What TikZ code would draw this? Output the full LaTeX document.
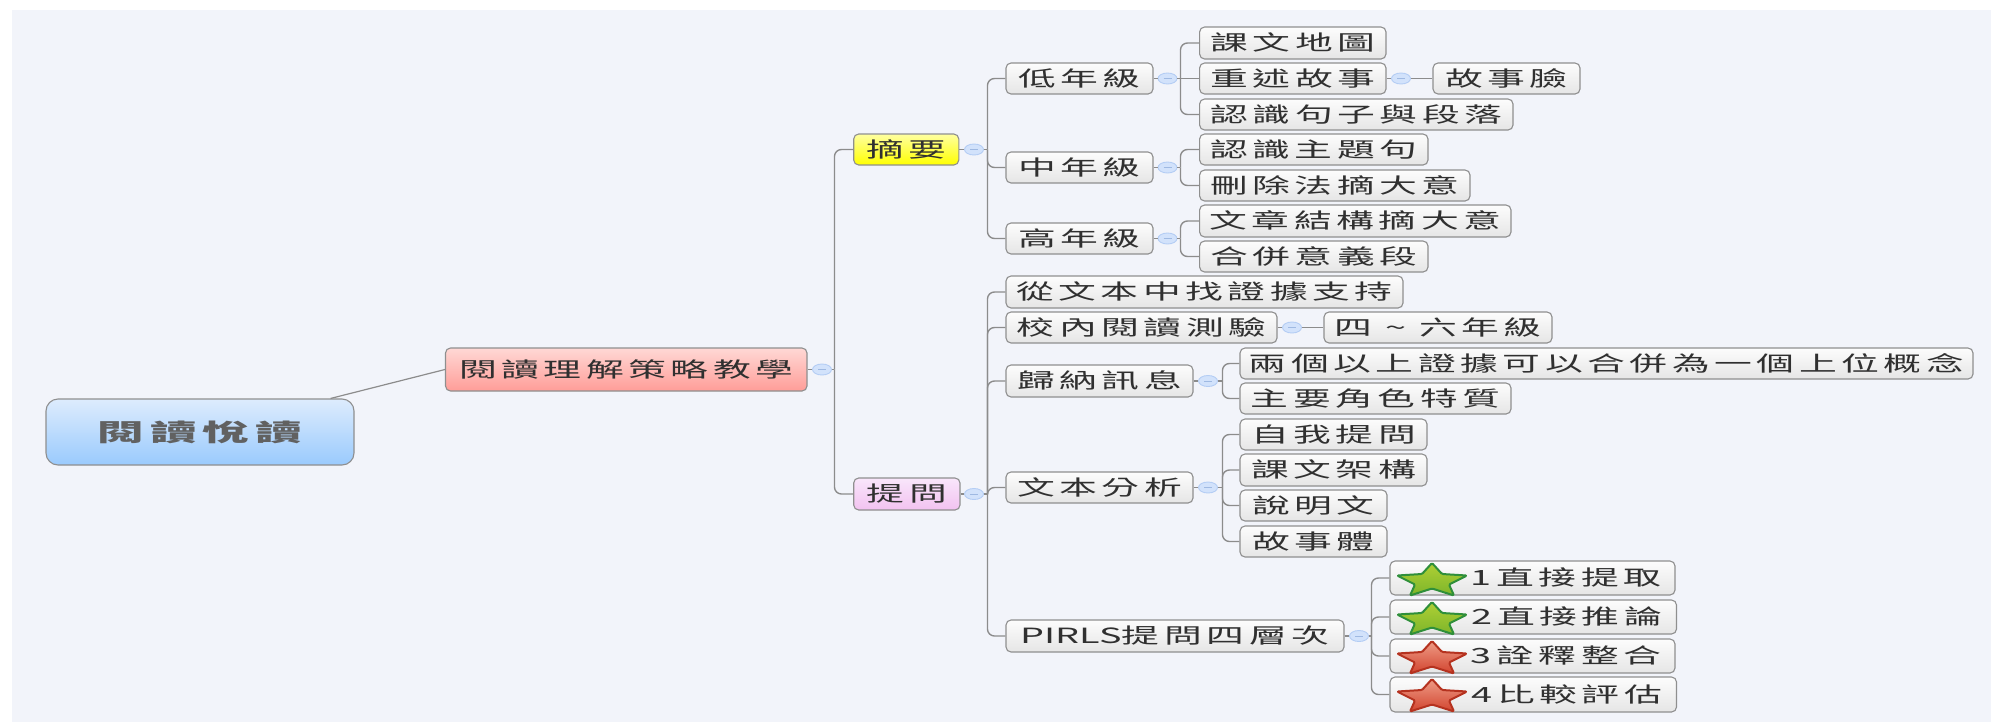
\documentclass[tikz,border=0pt]{standalone}
\usepackage{graphicx}
\usepackage{fontspec}
\usetikzlibrary{shapes.geometric,calc}
\newfontfamily\cjk[LetterSpace=12]{Noto Sans CJK TC}
\newfontfamily\cjklat{Noto Sans CJK TC}
\newfontfamily\cjkroot[LetterSpace=12]{Noto Sans CJK TC}
\newcommand\tx[1]{\scalebox{1.8}[1]{\fontsize{21}{24}\selectfont\cjk #1}}
\newcommand\txl[1]{\scalebox{1.8}[1]{\fontsize{21}{24}\selectfont\cjklat #1}}
\newcommand\rtx[1]{\scalebox{1.95}[1]{\fontsize{24}{28}\selectfont\cjkroot\bfseries #1}}
\definecolor{bgc}{HTML}{F2F4FA}
\definecolor{linec}{HTML}{8C8C8C}
\definecolor{edgec}{HTML}{8F8F8F}
\definecolor{txtc}{HTML}{303030}
\tikzset{
  boxbase/.style={draw=edgec,line width=1.1pt,inner sep=0pt,rounded corners=5pt,text=txtc,text height=18pt,text depth=3pt,align=center},
  rootbox/.style={boxbase,rounded corners=12pt,top color=rootT,bottom color=rootB,text=black!62,text height=21pt,text depth=3pt},
  redbox/.style={boxbase,top color=redT,bottom color=redB},
  yellowbox/.style={boxbase,top color=yelT,bottom color=yelB},
  purplebox/.style={boxbase,top color=purT,bottom color=purB},
  plainbox/.style={boxbase,top color=white!99!black,bottom color=black!10},
  conn/.style={draw=linec,line width=1.4pt,rounded corners=7pt},
  straightconn/.style={draw=linec,line width=1.4pt},
  collapser/.style={ellipse,draw=collE,fill=collF,line width=.9pt,minimum width=19pt,minimum height=11pt,inner sep=0pt},
  starG/.style={draw=starGE,line width=2pt,top color=starGT,bottom color=starGB,line join=round,rounded corners=1.2pt},
  starR/.style={draw=starRE,line width=2pt,top color=starRT,bottom color=starRB,line join=round,rounded corners=1.2pt},
}
\definecolor{rootT}{HTML}{DDECFD}\definecolor{rootB}{HTML}{9ACAFD}
\definecolor{redT}{HTML}{FFD8D5}\definecolor{redB}{HTML}{FF9D98}
\definecolor{yelT}{HTML}{FFFFA0}\definecolor{yelB}{HTML}{FFFF00}
\definecolor{purT}{HTML}{F9E6FB}\definecolor{purB}{HTML}{F2C2F0}
\definecolor{collE}{HTML}{B4CDF4}\definecolor{collF}{HTML}{D2E2FB}\definecolor{collM}{HTML}{9FB9E2}
\definecolor{starGE}{HTML}{2F8F3A}\definecolor{starGT}{HTML}{AFD035}\definecolor{starGB}{HTML}{7DB52A}
\definecolor{starRE}{HTML}{B5321F}\definecolor{starRT}{HTML}{EE9C86}\definecolor{starRB}{HTML}{D2442F}
% box: style, name, x0, y0, x1, y1, text
\newcommand\bx[7]{\node[#1,minimum width={(#5)-(#3)},minimum height={(#6)-(#4)}] (#2) at ({((#3)+(#5))/2},{((#4)+(#6))/2}) {#7};}
% collapse mark
\newcommand\coll[3]{\node[collapser] (#1) at (#2,#3) {};\draw[collM,line width=.8pt] ($(#1.center)+(-4,0)$) -- ($(#1.center)+(4,0)$);}
% link: collapse mark to child, via the trunk
\newcommand\lnk[3]{\draw[straightconn] (#1.east) -- ++(#2,0);\draw[conn] ($(#1.east)+(#2,0)$) |- (#3.west);}
\newcommand\stub[2]{\draw[linec,line width=1.1pt] (#1.east) -- (#2.west);}
% star: style, top point
\newcommand\starpath[2]{%
 \path[#1] (#2) -- ++(10,11) -- ++(25,1.5) -- ++(-18,9) -- ++(5,11) -- ++(-22,-7)
 -- ++(-22,7) -- ++(5,-11) -- ++(-18,-9) -- ++(25,-1.5) -- cycle;}
\begin{document}
\begin{tikzpicture}[x=1pt,y=-1pt]
\useasboundingbox (0,0) rectangle (1991,723);
\fill[white] (0,0) rectangle (1991,723);
\fill[bgc] (11.5,9.5) rectangle (1991,722);
% boxes
\bx{rootbox}{root}{46}{399}{354}{465}{\rtx{閱讀悅讀}}
\bx{redbox}{strat}{445.5}{348}{807}{391}{\tx{閱讀理解策略教學}}
\bx{yellowbox}{summ}{853.7}{134}{958.8}{165}{\tx{摘要}}
\bx{purplebox}{ask}{853.7}{478}{960}{510}{\tx{提問}}
\bx{plainbox}{low}{1006}{63}{1153}{94}{\tx{低年級}}
\bx{plainbox}{mid}{1006}{152}{1153}{183}{\tx{中年級}}
\bx{plainbox}{high}{1006}{223}{1153}{254}{\tx{高年級}}
\bx{plainbox}{map}{1199.6}{27}{1386}{59}{\tx{課文地圖}}
\bx{plainbox}{retell}{1199.6}{63}{1386}{94}{\tx{重述故事}}
\bx{plainbox}{face}{1433}{63}{1580}{94}{\tx{故事臉}}
\bx{plainbox}{para}{1199.6}{99}{1513}{130}{\tx{認識句子與段落}}
\bx{plainbox}{topic}{1199.6}{134}{1428}{165}{\tx{認識主題句}}
\bx{plainbox}{del}{1199.6}{170}{1470}{201}{\tx{刪除法摘大意}}
\bx{plainbox}{struct}{1199.6}{205}{1511}{237}{\tx{文章結構摘大意}}
\bx{plainbox}{merge}{1199.6}{241}{1428}{272}{\tx{合併意義段}}
\bx{plainbox}{evid}{1006}{276}{1403}{308}{\tx{從文本中找證據支持}}
\bx{plainbox}{test}{1006}{312}{1277}{343}{\tx{校內閱讀測驗}}
\bx{plainbox}{grade}{1324}{312}{1552}{343}{\tx{四 {\char"7E} 六年級}}
\bx{plainbox}{induct}{1006}{365}{1193}{397}{\tx{歸納訊息}}
\bx{plainbox}{two}{1240}{348}{1973}{379}{\tx{兩個以上證據可以合併為一個上位概念}}
\bx{plainbox}{role}{1240}{383}{1511}{414}{\tx{主要角色特質}}
\bx{plainbox}{analysis}{1006}{472}{1193}{503}{\tx{文本分析}}
\bx{plainbox}{self}{1240}{419}{1427}{450}{\tx{自我提問}}
\bx{plainbox}{frame}{1240}{454}{1427}{486}{\tx{課文架構}}
\bx{plainbox}{expo}{1240}{490}{1387}{521}{\tx{說明文}}
\bx{plainbox}{story}{1240}{526}{1387}{557}{\tx{故事體}}
\bx{plainbox}{pirls}{1006}{620}{1344}{652}{\txl{PIRLS}\tx{提問四層次}}
\bx{plainbox}{lvA}{1390}{561}{1675}{595}{\hspace*{67pt}\tx{1直接提取}}
\bx{plainbox}{lvB}{1390}{600}{1676.5}{634}{\hspace*{67pt}\tx{2直接推論}}
\bx{plainbox}{lvC}{1390}{639}{1675}{673}{\hspace*{67pt}\tx{3詮釋整合}}
\bx{plainbox}{lvD}{1390}{677}{1676.5}{712}{\hspace*{67pt}\tx{4比較評估}}
% collapse marks
\coll{cStrat}{822}{369.5}
\coll{cSumm}{974}{149.5}
\coll{cAsk}{974}{494}
\coll{cLow}{1167.5}{78.5}
\coll{cMid}{1167.5}{167.5}
\coll{cHigh}{1167.5}{238.5}
\coll{cRetell}{1401}{78.5}
\coll{cTest}{1292}{327.5}
\coll{cInduct}{1208}{381}
\coll{cAnalysis}{1208}{487.5}
\coll{cPirls}{1359}{636}
% connectors
\draw[linec,line width=1.2pt] ([xshift=-24pt]root.north east) -- (strat.west);
\foreach \p/\c in {strat/cStrat,summ/cSumm,ask/cAsk,low/cLow,mid/cMid,high/cHigh,retell/cRetell,test/cTest,induct/cInduct,analysis/cAnalysis,pirls/cPirls}{\stub{\p}{\c}}
\lnk{cStrat}{2.5}{summ}\lnk{cStrat}{2.5}{ask}
\lnk{cSumm}{3.5}{low}\lnk{cSumm}{3.5}{mid}\lnk{cSumm}{3.5}{high}
\lnk{cLow}{3}{map}\draw[straightconn] (cLow.east) -- (retell.west);\lnk{cLow}{3}{para}
\lnk{cMid}{3}{topic}\lnk{cMid}{3}{del}
\lnk{cHigh}{3}{struct}\lnk{cHigh}{3}{merge}
\draw[straightconn] (cRetell.east) -- (face.west);
\lnk{cAsk}{3.5}{evid}\lnk{cAsk}{3.5}{test}\lnk{cAsk}{3.5}{induct}\lnk{cAsk}{3.5}{analysis}\lnk{cAsk}{3.5}{pirls}
\draw[straightconn] (cTest.east) -- (grade.west);
\lnk{cInduct}{4.5}{two}\lnk{cInduct}{4.5}{role}
\lnk{cAnalysis}{4.5}{self}\lnk{cAnalysis}{4.5}{frame}\lnk{cAnalysis}{4.5}{expo}\lnk{cAnalysis}{4.5}{story}
\lnk{cPirls}{2.5}{lvA}\lnk{cPirls}{2.5}{lvB}\lnk{cPirls}{2.5}{lvC}\lnk{cPirls}{2.5}{lvD}
% stars
\coordinate (sA) at (1432,563);
\coordinate (sB) at (1432,602);
\coordinate (sC) at (1432,641);
\coordinate (sD) at (1432,679);
\starpath{starG}{sA}
\starpath{starG}{sB}
\starpath{starR}{sC}
\starpath{starR}{sD}
\end{tikzpicture}
\end{document}
